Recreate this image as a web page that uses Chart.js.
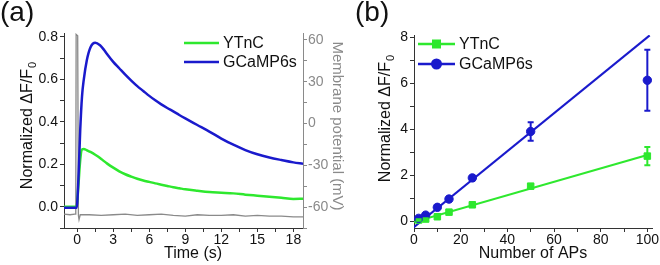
<!DOCTYPE html>
<html>
<head>
<meta charset="utf-8">
<script src="https://cdn.jsdelivr.net/npm/chart.js@4"></script>
<style>
  html, body { margin: 0; padding: 0; background: #fff; }
  #wrap { position: relative; width: 660px; height: 265px; overflow: hidden; }
  #ca { position: absolute; left: 0; top: 0; }
  #cb { position: absolute; left: 330px; top: 0; }
</style>
</head>
<body>
<div id="wrap">
  <canvas id="ca" width="350" height="265" style="width:350px;height:265px"></canvas>
  <canvas id="cb" width="330" height="265" style="width:330px;height:265px"></canvas>
</div>
<script>
// ---- panel (a): time traces ----
const seriesNames = ['YTnC', 'GCaMP6s'];
const timeS = [-1.1, -0.5, -0.05, 0.1, 0.25, 0.4, 0.55, 0.8, 1.1, 1.5, 1.9, 2.2, 2.5, 3.0, 3.5, 4.0, 4.5, 5.0, 5.5,
  6.0, 6.5, 7.0, 7.5, 8.0, 8.5, 9.0, 10.0, 11.0, 12.0, 13.0, 14.0, 15.0, 16.0, 17.0, 18.0, 18.8];
const gcampTrace = [-0.005, -0.005, -0.005, 0.13, 0.36, 0.52, 0.6, 0.69, 0.75, 0.772, 0.76, 0.741, 0.718, 0.682, 0.652,
  0.622, 0.594, 0.568, 0.545, 0.522, 0.501, 0.482, 0.465, 0.449, 0.432, 0.416, 0.385, 0.354, 0.321, 0.292, 0.267,
  0.247, 0.232, 0.22, 0.209, 0.203];
const ytncTrace = [0.0, 0.0, 0.0, 0.1, 0.22, 0.27, 0.272, 0.266, 0.258, 0.245, 0.23, 0.216, 0.203, 0.184, 0.167,
  0.153, 0.142, 0.132, 0.124, 0.117, 0.11, 0.104, 0.098, 0.092, 0.087, 0.082, 0.075, 0.069, 0.066, 0.063, 0.057,
  0.052, 0.047, 0.042, 0.037, 0.038];
const vmTime = [-1.1, -0.6, -0.2, -0.12, -0.09, -0.02, 0.04, 0.1, 0.15, 0.25, 1, 2, 3, 4, 5, 6, 7, 8, 9, 10, 11, 12,
  13, 14, 15, 16, 17, 18, 18.8];
const vmTrace = [-65, -65.5, -65, -65, 64, 64, 63, -66, -69, -65.5, -65.5, -66, -65.5, -65, -66, -65.5, -65, -66,
  -66.5, -65.5, -66, -66, -65.5, -66.5, -66, -66.5, -66.5, -67, -67];
const timeTicks = [0, 3, 6, 9, 12, 15, 18];
const normTicks = [0, 0.2, 0.4, 0.6, 0.8];
const vmTicks = [-60, -30, 0, 30, 60];

// ---- panel (b): amplitude vs number of APs ----
const apCounts = [2, 5, 10, 15, 25, 50, 100];
const ytncMean = [0.05, 0.09, 0.19, 0.39, 0.71, 1.52, 2.83];
const ytncErr = [0.03, 0.03, 0.04, 0.05, 0.06, 0.1, 0.4];
const gcampMean = [0.12, 0.26, 0.6, 0.96, 1.88, 3.9, 6.13];
const gcampErr = [0.03, 0.05, 0.08, 0.1, 0.1, 0.4, 1.33];
const ytncFitX = [0, 100];
const ytncFitY = [-0.04, 2.88];
const gcampFitX = [-0.5, 101];
const gcampFitY = [-0.3, 8.08];
const apTicks = [0, 20, 40, 60, 80, 100];
const dffTicks = [0, 2, 4, 6, 8];

const GREEN = '#2ee82e';
const BLUE = '#1a1acc';
const GREY = '#8a8a8a';
const AXIS = '#333';
const FONT = '"Liberation Sans", Arial, sans-serif';

const pts = (xs, ys) => xs.map((x, i) => ({ x: x, y: ys[i] }));
const inList = (list, v) => list.some(t => Math.abs(t - v) < 1e-6);

// text + legend drawing
const textPlugin = {
  id: 'txt',
  afterDraw(chart, args, opts) {
    const ctx = chart.ctx;
    ctx.save();
    (opts.items || []).forEach(it => {
      ctx.save();
      ctx.fillStyle = it.color || '#111';
      ctx.font = it.size + 'px ' + FONT;
      ctx.translate(it.x, it.y);
      if (it.rot) ctx.rotate(it.rot);
      ctx.textBaseline = it.base || 'middle';
      let w = ctx.measureText(it.text).width;
      let sw = 0;
      if (it.sub) {
        ctx.font = (it.size * 0.7) + 'px ' + FONT;
        sw = ctx.measureText(it.sub).width;
        ctx.font = it.size + 'px ' + FONT;
      }
      let x0 = it.align === 'left' ? 0 : -(w + sw) / 2;
      ctx.textAlign = 'left';
      ctx.fillText(it.text, x0, 0);
      if (it.sub) {
        ctx.font = (it.size * 0.7) + 'px ' + FONT;
        ctx.fillText(it.sub, x0 + w + 1, it.size * 0.3);
      }
      ctx.restore();
    });
    (opts.legend || []).forEach(lg => {
      const ds = chart.data.datasets[lg.ds];
      ctx.strokeStyle = ds.borderColor;
      ctx.lineWidth = 2.5;
      ctx.beginPath();
      ctx.moveTo(lg.x1, lg.y);
      ctx.lineTo(lg.x2, lg.y);
      ctx.stroke();
      ctx.fillStyle = ds.borderColor;
      const cx = (lg.x1 + lg.x2) / 2;
      if (lg.marker === 'rect') ctx.fillRect(cx - 4.5, lg.y - 4.5, 9, 9);
      if (lg.marker === 'circle') { ctx.beginPath(); ctx.arc(cx, lg.y, 5.5, 0, Math.PI * 2); ctx.fill(); }
      ctx.fillStyle = '#111';
      ctx.font = '16px ' + FONT;
      ctx.textBaseline = 'middle';
      ctx.textAlign = 'left';
      ctx.fillText(ds.label, lg.tx, lg.y + 1);
    });
    ctx.restore();
  }
};

// vertical error bars from the errors array of a dataset
const errPlugin = {
  id: 'errbars',
  afterDatasetsDraw(chart) {
    const ctx = chart.ctx;
    const xs = chart.scales.x, ys = chart.scales.y;
    chart.data.datasets.forEach(ds => {
      if (!ds.errors) return;
      ctx.save();
      ctx.strokeStyle = ds.backgroundColor;
      ctx.lineWidth = 2;
      ds.data.forEach((p, i) => {
        const px = xs.getPixelForValue(p.x);
        const top = ys.getPixelForValue(p.y + ds.errors[i]);
        const bot = ys.getPixelForValue(p.y - ds.errors[i]);
        ctx.beginPath();
        ctx.moveTo(px, top); ctx.lineTo(px, bot);
        ctx.moveTo(px - 3, top); ctx.lineTo(px + 3, top);
        ctx.moveTo(px - 3, bot); ctx.lineTo(px + 3, bot);
        ctx.stroke();
      });
      ctx.restore();
    });
  }
};

function axis(extra) {
  return Object.assign({
    grid: { drawOnChartArea: false, drawTicks: true, tickLength: 4, color: AXIS, tickWidth: 1 },
    border: { display: true, color: AXIS, width: 1 },
  }, extra);
}

function tickOpts(list, fmt, color, pad) {
  return {
    includeBounds: false, maxTicksLimit: 100, autoSkip: false, maxRotation: 0,
    color: color || '#111', padding: pad, font: { family: FONT, size: 14 },
    callback: v => inList(list, v) ? fmt(v) : ''
  };
}

new Chart(document.getElementById('ca'), {
  type: 'line',
  data: {
    datasets: [
      { label: seriesNames[1], data: pts(timeS, gcampTrace), borderColor: BLUE, borderWidth: 2.5,
        pointRadius: 0, cubicInterpolationMode: 'monotone', yAxisID: 'y' },
      { label: seriesNames[0], data: pts(timeS, ytncTrace), borderColor: GREEN, borderWidth: 2.5,
        pointRadius: 0, cubicInterpolationMode: 'monotone', yAxisID: 'y' },
      { label: 'Vm', data: pts(vmTime, vmTrace), borderColor: GREY, borderWidth: 1.3,
        pointRadius: 0, tension: 0, yAxisID: 'yR' }
    ]
  },
  options: {
    responsive: false,
    animation: false,
    layout: { padding: { top: 33, left: 0, right: 0, bottom: 0 } },
    plugins: {
      legend: { display: false },
      tooltip: { enabled: false },
      txt: {
        items: [
          { text: '(a)', x: 0, y: 21, size: 28, align: 'left', base: 'alphabetic' },
          { text: 'Normalized \u0394F/F', sub: '0', x: 28, y: 126, size: 16, rot: -Math.PI / 2 },
          { text: 'Membrane potential (mV)', x: 337, y: 126, size: 15, rot: Math.PI / 2, color: GREY },
          { text: 'Time (s)', x: 193, y: 254, size: 16 }
        ],
        legend: [
          { ds: 1, x1: 184, x2: 219, y: 43, tx: 223 },
          { ds: 0, x1: 184, x2: 219, y: 62, tx: 223 }
        ]
      }
    },
    scales: {
      x: axis({
        type: 'linear', min: -1.1, max: 18.8,
        ticks: Object.assign(tickOpts(timeTicks, v => String(v), null, 0), { stepSize: 1.5 }),
        afterFit: s => { s.height = 37; }
      }),
      y: axis({
        type: 'linear', position: 'left', min: -0.1, max: 0.818,
        ticks: Object.assign(tickOpts(normTicks, v => v.toFixed(1), null, 2), { stepSize: 0.1 }),
        afterFit: s => { s.width = 64; }
      }),
      yR: axis({
        type: 'linear', position: 'right', min: -75, max: 65,
        grid: { drawOnChartArea: false, tickLength: 4, color: GREY },
        border: { display: true, color: GREY, width: 1 },
        ticks: Object.assign(tickOpts(vmTicks, v => String(v), GREY, 1), { stepSize: 15 }),
        afterFit: s => { s.width = 47; }
      })
    }
  },
  plugins: [textPlugin]
});

new Chart(document.getElementById('cb'), {
  type: 'scatter',
  data: {
    datasets: [
      { label: seriesNames[1], data: pts(apCounts, gcampMean), errors: gcampErr, borderColor: BLUE,
        backgroundColor: BLUE, pointStyle: 'circle', pointRadius: 4.2, showLine: false },
      { label: seriesNames[0], data: pts(apCounts, ytncMean), errors: ytncErr, borderColor: GREEN,
        backgroundColor: GREEN, pointStyle: 'rect', pointRadius: 4.6, showLine: false },
      { type: 'line', label: 'fitG', data: pts(gcampFitX, gcampFitY), borderColor: BLUE, borderWidth: 2.2,
        pointRadius: 0 },
      { type: 'line', label: 'fitY', data: pts(ytncFitX, ytncFitY), borderColor: GREEN, borderWidth: 2.2,
        pointRadius: 0 }
    ]
  },
  options: {
    responsive: false,
    animation: false,
    layout: { padding: { top: 35, left: 0, right: 8, bottom: 0 } },
    plugins: {
      legend: { display: false },
      tooltip: { enabled: false },
      txt: {
        items: [
          { text: '(b)', x: 25, y: 21, size: 28, align: 'left', base: 'alphabetic' },
          { text: 'Normalized \u0394F/F', sub: '0', x: 56, y: 119, size: 16, rot: -Math.PI / 2 },
          { text: 'Number of APs', x: 203, y: 254, size: 16 }
        ],
        legend: [
          { ds: 1, x1: 88, x2: 125, y: 44, tx: 129, marker: 'rect' },
          { ds: 0, x1: 88, x2: 125, y: 64, tx: 129, marker: 'circle' }
        ]
      }
    },
    scales: {
      x: axis({
        type: 'linear', min: 0, max: 102,
        ticks: Object.assign(tickOpts(apTicks, v => String(v), null, 0), { stepSize: 10 }),
        afterFit: s => { s.height = 37; }
      }),
      y: axis({
        type: 'linear', min: -0.3, max: 8.1,
        ticks: Object.assign(tickOpts(dffTicks, v => String(v), null, 2), { stepSize: 1 }),
        afterFit: s => { s.width = 84; }
      })
    }
  },
  plugins: [textPlugin, errPlugin]
});
</script>
</body>
</html>
